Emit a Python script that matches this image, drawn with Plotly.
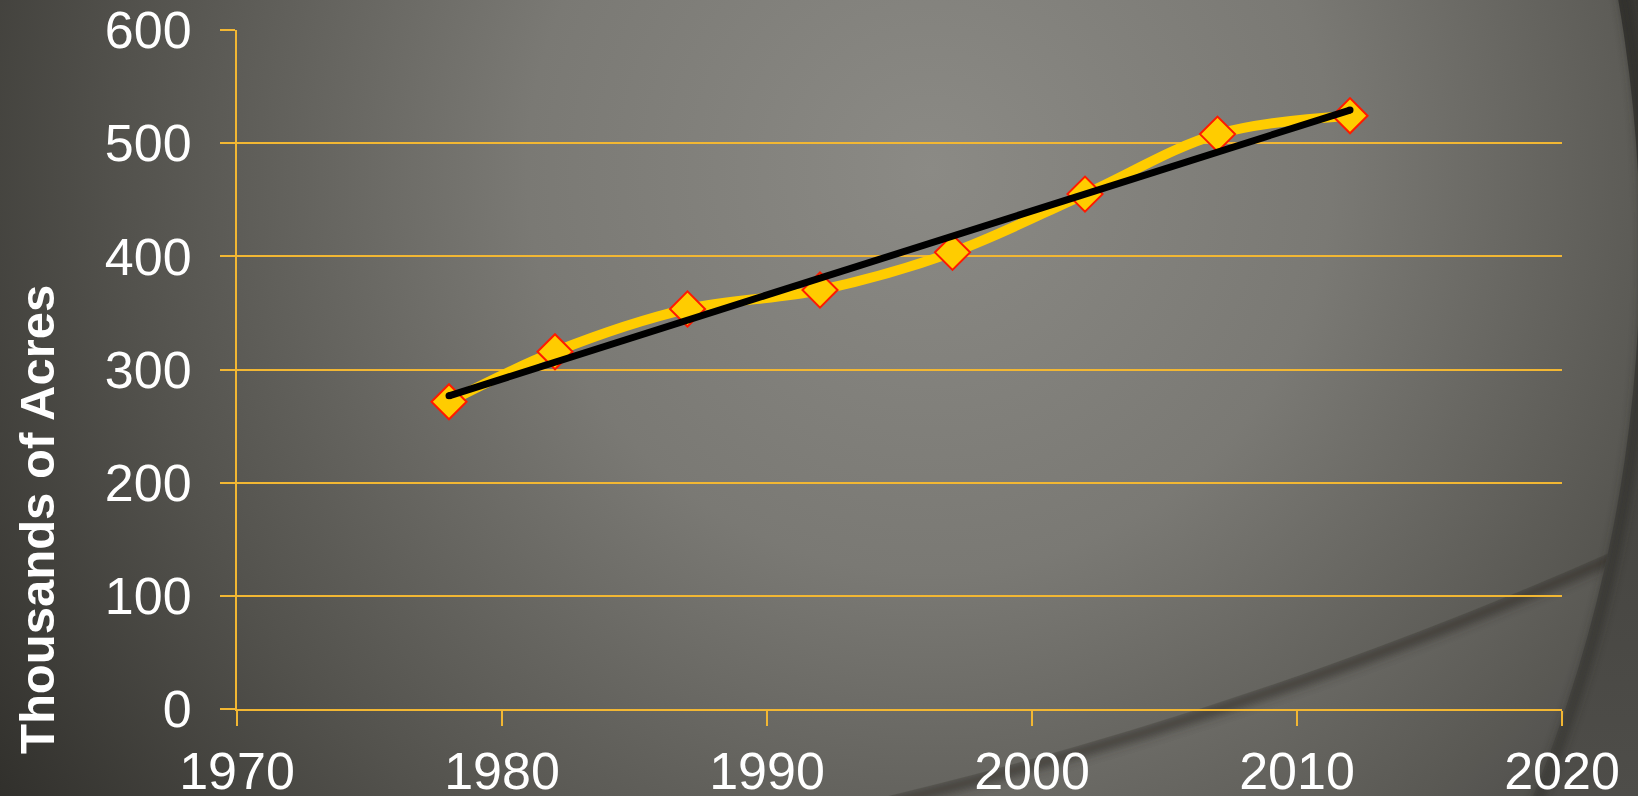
import base64
import numpy as np
import plotly.graph_objects as go

# Harvested area, thousands of acres, by census year
years = [1978, 1982, 1987, 1992, 1997, 2002, 2007, 2012]
acres = [271.5, 315.7, 353.5, 370.2, 403.5, 455.0, 508.0, 524.3]
x_ticks = [1970, 1980, 1990, 2000, 2010, 2020]
y_ticks = [0, 100, 200, 300, 400, 500, 600]
y_title = "Thousands of Acres"

# Linear trend fitted to the observations
slope, intercept = np.polyfit(years, acres, 1)
trend_x = [years[0], years[-1]]
trend_y = [slope * v + intercept for v in trend_x]

W, H = 1638, 796
L, R, T, B = 237, 76, 30, 87
plot_w, plot_h = W - L - R, H - T - B

GOLD = "#F2B733"
FONT = "Liberation Sans, Arial, sans-serif"

# Slide-style backdrop: radial grey gradient with two soft arcs
bg_svg = f"""<svg xmlns="http://www.w3.org/2000/svg" width="{W}" height="{H}" viewBox="0 0 {W} {H}" preserveAspectRatio="none">
<defs>
<radialGradient id="g" gradientUnits="userSpaceOnUse" cx="930" cy="170" r="1150">
<stop offset="0" stop-color="#8b8a85"/>
<stop offset="0.35" stop-color="#7a7974"/>
<stop offset="0.7" stop-color="#53524d"/>
<stop offset="1" stop-color="#2e2d29"/>
</radialGradient>
<linearGradient id="o" x1="0" y1="0" x2="0" y2="1">
<stop offset="0" stop-color="#393834"/>
<stop offset="1" stop-color="#4e4d49"/>
</linearGradient>
<filter id="b" x="-10%" y="-10%" width="120%" height="120%"><feGaussianBlur stdDeviation="5"/></filter>
<mask id="m"><rect width="{W}" height="{H}" fill="white"/><circle cx="-88" cy="-3290" r="4201" fill="black"/></mask>
<clipPath id="c"><circle cx="193" cy="250" r="1447"/></clipPath>
</defs>
<rect width="{W}" height="{H}" fill="url(#o)"/>
<circle cx="193" cy="250" r="1447" fill="url(#g)"/>
<g clip-path="url(#c)">
<g mask="url(#m)">
<rect width="{W}" height="{H}" fill="#ffffff" opacity="0.04"/>
<circle cx="-88" cy="-3290" r="4207" fill="none" stroke="#292824" stroke-width="12" opacity="0.6" filter="url(#b)"/>
</g>
</g>
<circle cx="193" cy="250" r="1453" fill="none" stroke="#262521" stroke-width="10" opacity="0.5" filter="url(#b)"/>
</svg>"""
bg_uri = "data:image/svg+xml;base64," + base64.b64encode(bg_svg.encode()).decode()

fig = go.Figure()

fig.add_trace(go.Scatter(
    x=years, y=acres, mode="lines+markers",
    line=dict(color="#FFCC00", width=10, shape="spline", smoothing=1.0),
    marker=dict(symbol="diamond", size=27, color="#FFCC00",
                line=dict(color="#FF1A00", width=2)),
    hoverinfo="x+y", showlegend=False,
))

# Trend line; end markers give it rounded caps
fig.add_trace(go.Scatter(
    x=trend_x, y=trend_y, mode="lines+markers",
    line=dict(color="#000000", width=7),
    marker=dict(symbol="circle", size=7, color="#000000"),
    hoverinfo="skip", showlegend=False,
))

fig.add_layout_image(dict(
    source=bg_uri, xref="paper", yref="paper",
    x=-L / plot_w, y=1 + T / plot_h,
    sizex=W / plot_w, sizey=H / plot_h,
    xanchor="left", yanchor="top", sizing="stretch", layer="below",
))

fig.add_annotation(
    text=f"<b>{y_title}</b>", xref="paper", yref="paper",
    x=(37 - L) / plot_w, y=(H - B - 520) / plot_h,
    xanchor="center", yanchor="middle", textangle=-90, showarrow=False,
    font=dict(family=FONT, size=49, color="#FFFFFF"),
)

axis_common = dict(
    showline=True, linecolor=GOLD, linewidth=2,
    ticks="outside", ticklen=15, tickwidth=2, tickcolor=GOLD,
    tickfont=dict(family=FONT, size=52, color="#FFFFFF"),
    zeroline=False, automargin=False,
)

fig.update_xaxes(range=[1970, 2020], tickvals=x_ticks, showgrid=False,
                 ticklabelstandoff=1, **axis_common)
fig.update_yaxes(range=[0, 600], tickvals=y_ticks, showgrid=True,
                 gridcolor=GOLD, gridwidth=2, ticklabelstandoff=18,
                 **axis_common)

fig.update_layout(
    width=W, height=H,
    margin=dict(l=L, r=R, t=T, b=B, autoexpand=False),
    paper_bgcolor="#4a4945", plot_bgcolor="rgba(0,0,0,0)",
)

fig.write_html("out.html")
